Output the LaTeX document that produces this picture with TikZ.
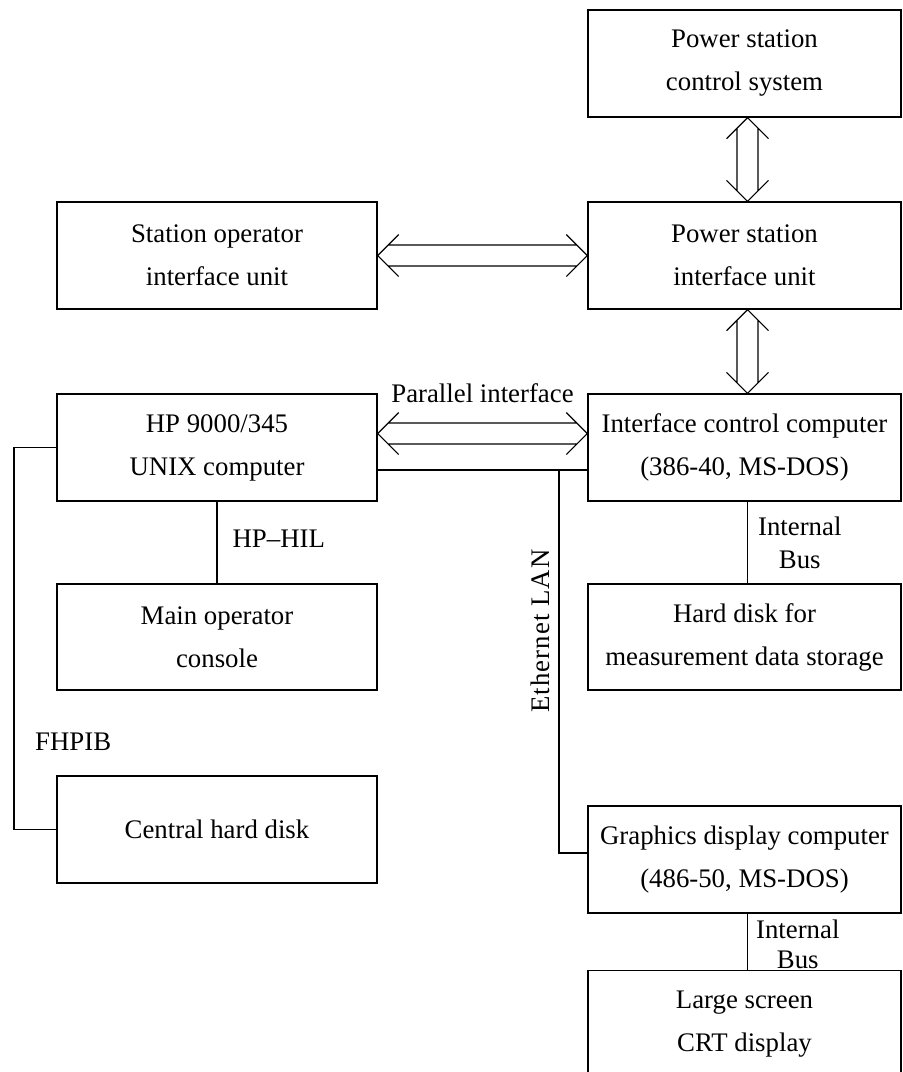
\documentclass[tikz,border=0pt]{standalone}
\usepackage{fontspec}
\setmainfont{Liberation Serif}
\usetikzlibrary{calc}

% double-line arrow with open heads, left tip #1, right tip #2
\newcommand\hdouble[2]{%
  \draw[conn] let \p1=(#1), \p2=(#2) in
    (\x1+21pt,\y1+21pt) -- (\x1,\y1) -- (\x1+21pt,\y1-21pt)
    (\x1+10.5pt,\y1+10.5pt) -- (\x2-10.5pt,\y2+10.5pt)
    (\x1+10.5pt,\y1-10.5pt) -- (\x2-10.5pt,\y2-10.5pt)
    (\x2-21pt,\y2+21pt) -- (\x2,\y2) -- (\x2-21pt,\y2-21pt);}
% double-line arrow with open heads, upper tip #1, lower tip #2
\newcommand\vdouble[2]{%
  \draw[conn] let \p1=(#1), \p2=(#2) in
    (\x1-21pt,\y1-21pt) -- (\x1,\y1) -- (\x1+21pt,\y1-21pt)
    (\x1-10.5pt,\y1-10.5pt) -- (\x2-10.5pt,\y2+10.5pt)
    (\x1+10.5pt,\y1-10.5pt) -- (\x2+10.5pt,\y2+10.5pt)
    (\x2-21pt,\y2+21pt) -- (\x2,\y2) -- (\x2+21pt,\y2+21pt);}

\begin{document}
\begin{tikzpicture}[x=1pt,y=-1pt,
  box/.style={draw, line width=1.3pt, inner sep=0pt, align=center,
    font=\fontsize{26.8}{43}\selectfont},
  lbox/.style={box, minimum width=320pt, minimum height=107pt},
  rbox/.style={box, minimum width=313pt, minimum height=107pt},
  conn/.style={line width=1.2pt},
  lan/.style={line width=2.6pt},
  lbl/.style={inner sep=0pt, align=center, font=\fontsize{26.8}{33}\selectfont}]
\clip (0,0) rectangle (903,1072);
\fill[white] (0,0) rectangle (903,1072);

% right column
\node[rbox] (pscs) at (744.5,63.5)  {Power station\\control system};
\node[rbox] (psiu) at (744.5,255.5) {Power station\\interface unit};
\node[rbox] (icc)  at (744.5,447.5) {Interface control computer\\(386-40, MS-DOS)};
\node[rbox, minimum height=106pt] (hdm) at (744.5,637) {Hard disk for\\measurement data storage};
\node[rbox] (gdc)  at (744.5,859.5) {Graphics display computer\\(486-50, MS-DOS)};
\node[rbox] (crt)  at (744.5,1024) {Large screen\\CRT display};

% left column
\node[lbox] (soiu) at (217,255.5) {Station operator\\interface unit};
\node[lbox] (hp)   at (217,447.5) {HP 9000/345\\UNIX computer};
\node[lbox, minimum height=106pt] (moc) at (217,637) {Main operator\\console};
\node[lbox] (chd)  at (217,829.5) {Central hard disk};

% double arrows
\vdouble{$(pscs.south)+(3,0)$}{$(psiu.north)+(3,0)$}
\vdouble{$(psiu.south)+(3,0)$}{$(icc.north)+(3,0)$}
\hdouble{soiu.east}{psiu.west}
\hdouble{$(hp.east)+(0,-14)$}{$(icc.west)+(0,-14)$}
\node[lbl, anchor=base] (par) at ($(hp.north east)!0.5!(icc.north west)+(0,9)$) {Parallel interface};

% single links
\draw[conn] (hp.south) -- (moc.north)
  node[lbl, pos=0.45, anchor=west, xshift=15pt] (hil) {HP--HIL};
\draw[conn] ($(icc.south)+(3,0)$) -- ($(hdm.north)+(3,0)$)
  node[lbl, midway, anchor=west, xshift=10pt] (ib1) {Internal\\Bus};
\draw[conn] ($(gdc.south)+(3,0)$) -- ($(crt.north)+(3,0)$)
  node[lbl, pos=0.55, anchor=west, xshift=8pt, font=\fontsize{26.8}{30}\selectfont] (ib2) {Internal\\Bus};

% FHPIB bus
\coordinate (fa) at (14,447.5);
\coordinate (fb) at (14,829.5);
\draw[conn] (hp.west) -- (fa) -- (fb) -- (chd.west);
\node[lbl, anchor=base west] (fh) at (35,750) {FHPIB};

% Ethernet LAN
\coordinate (ea) at (559,470);
\coordinate (eb) at (559,853);
\draw[lan] ($(hp.east)+(0,22.5)$) -- ($(icc.west)+(0,22.5)$);
\draw[lan] (ea) -- (eb) -- (eb -| gdc.west);
\node[lbl, rotate=90] (eth) at (540,631) {\addfontfeatures{LetterSpace=4}Ethernet LAN};
\end{tikzpicture}
\end{document}
